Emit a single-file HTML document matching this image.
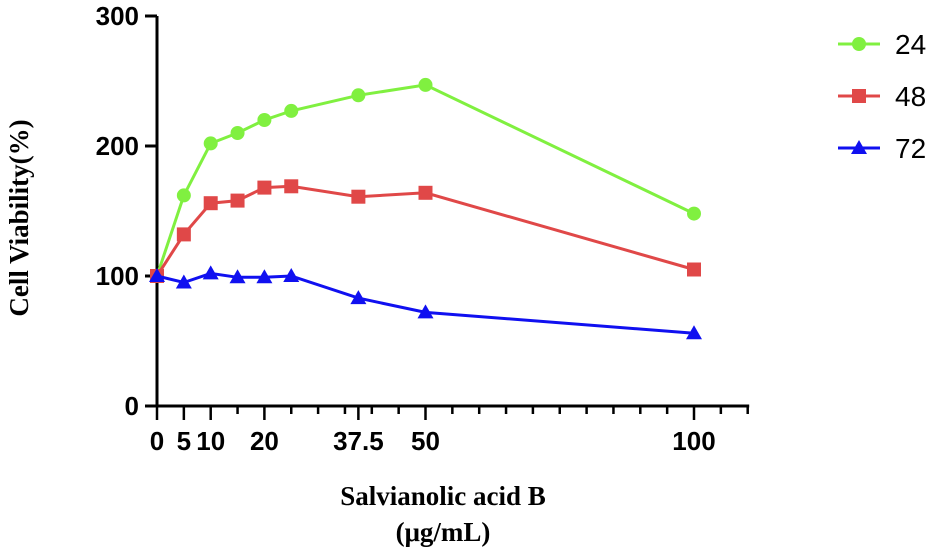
<!DOCTYPE html>
<html><head><meta charset="utf-8"><style>
body{margin:0;background:#fff;width:940px;height:552px;overflow:hidden}
text{font-family:"Liberation Sans Narrow","Liberation Sans",Arial,sans-serif}
.serif{font-family:"Liberation Serif",serif}
</style></head><body>
<svg id="chart" width="940" height="552" viewBox="0 0 940 552" xmlns="http://www.w3.org/2000/svg">
<g id="axes"></g><g id="series"></g><g id="legend"></g>
<text class="serif" transform="translate(28,218) rotate(-90)" text-anchor="middle" font-weight="bold" font-size="27">Cell Viability(%)</text>
<text class="serif" x="443" y="505" text-anchor="middle" font-weight="bold" font-size="27">Salvianolic acid B</text>
<text class="serif" x="443" y="541" text-anchor="middle" font-weight="bold" font-size="27">(μg/mL)</text>
</svg>
<script>
const xValues=[0,5,10,15,20,25,37.5,50,100];
const series24=[100,162,202,210,220,227,239,247,148];
const series48=[100,132,156,158,168,169,161,164,105];
const series72=[100,95,102,99,99,100,83,72,56];
const seriesNames=["24","48","72"];
const xTickLabels=[0,5,10,20,37.5,50,100];
const yTickLabels=[0,100,200,300];
const NS="http://www.w3.org/2000/svg";
const X0=157,XS=5.37,Y0=406,YS=1.3;
const xs=v=>X0+v*XS, ys=v=>Y0-v*YS;
function mk(tag,attrs,parent){const e=document.createElementNS(NS,tag);for(const k in attrs)e.setAttribute(k,attrs[k]);parent.appendChild(e);return e;}
const ax=document.getElementById('axes');
let l=mk('line',{x1:X0,y1:ys(300),x2:X0,y2:Y0+1.5,stroke:'#000','stroke-width':3},ax);


l=mk('line',{x1:X0-12,y1:Y0,x2:xs(110)+1.5,y2:Y0,stroke:'#000','stroke-width':3},ax);


for(let v=5;v<=110;v+=5){if(xTickLabels.includes(v))continue;
 const t=mk('line',{x1:xs(v),y1:Y0,x2:xs(v),y2:Y0+8,stroke:'#000','stroke-width':2.5},ax);
 
 }
xTickLabels.forEach(v=>{
 const t=mk('line',{x1:xs(v),y1:Y0,x2:xs(v),y2:Y0+14,stroke:'#000','stroke-width':2.5},ax);
 
 
 const tx=mk('text',{x:xs(v),y:Y0+44,'text-anchor':'middle','font-size':26,'font-weight':'bold'},ax);
 tx.textContent=v;
 
 
});
yTickLabels.forEach(v=>{
 const t=mk('line',{x1:X0-12,y1:ys(v),x2:X0,y2:ys(v),stroke:'#000','stroke-width':3},ax);
 
 
 const tx=mk('text',{x:X0-18,y:ys(v)+9,'text-anchor':'end','font-size':26,'font-weight':'bold'},ax);
 tx.textContent=v;
 
 
});
const sg=document.getElementById('series'), lg=document.getElementById('legend');
function marker(g,shape,x,y,color){
 if(shape==='circle')return mk('circle',{cx:x,cy:y,r:7,fill:color},g);
 if(shape==='square')return mk('rect',{x:x-7,y:y-7,width:14,height:14,fill:color},g);
 return mk('polygon',{points:`${x},${y-8} ${x+8},${y+6} ${x-8},${y+6}`,fill:color},g);
}
const defs=[[series24,'#80f040','circle'],[series48,'#e04848','square'],[series72,'#1010f0','triangle']];
defs.forEach(([vals,color,shape],i)=>{
 const g=mk('g',{},sg);
 
 
 const p=mk('polyline',{points:vals.map((v,j)=>xs(xValues[j])+','+ys(v)).join(' '),fill:'none',stroke:color,'stroke-width':3},g);
 
 
 vals.forEach((v,j)=>{const m=marker(g,shape,xs(xValues[j]),ys(v),color);
  
  });
 const ly=44+i*52;
 const le=mk('g',{},lg);
 
 
 mk('line',{x1:838,y1:ly,x2:880,y2:ly,stroke:color,'stroke-width':3},le);
 marker(le,shape,859,ly,color);
 const t=mk('text',{x:895,y:ly+10,'font-size':28},le);
 t.textContent=seriesNames[i];
});
</script>
</body></html>
